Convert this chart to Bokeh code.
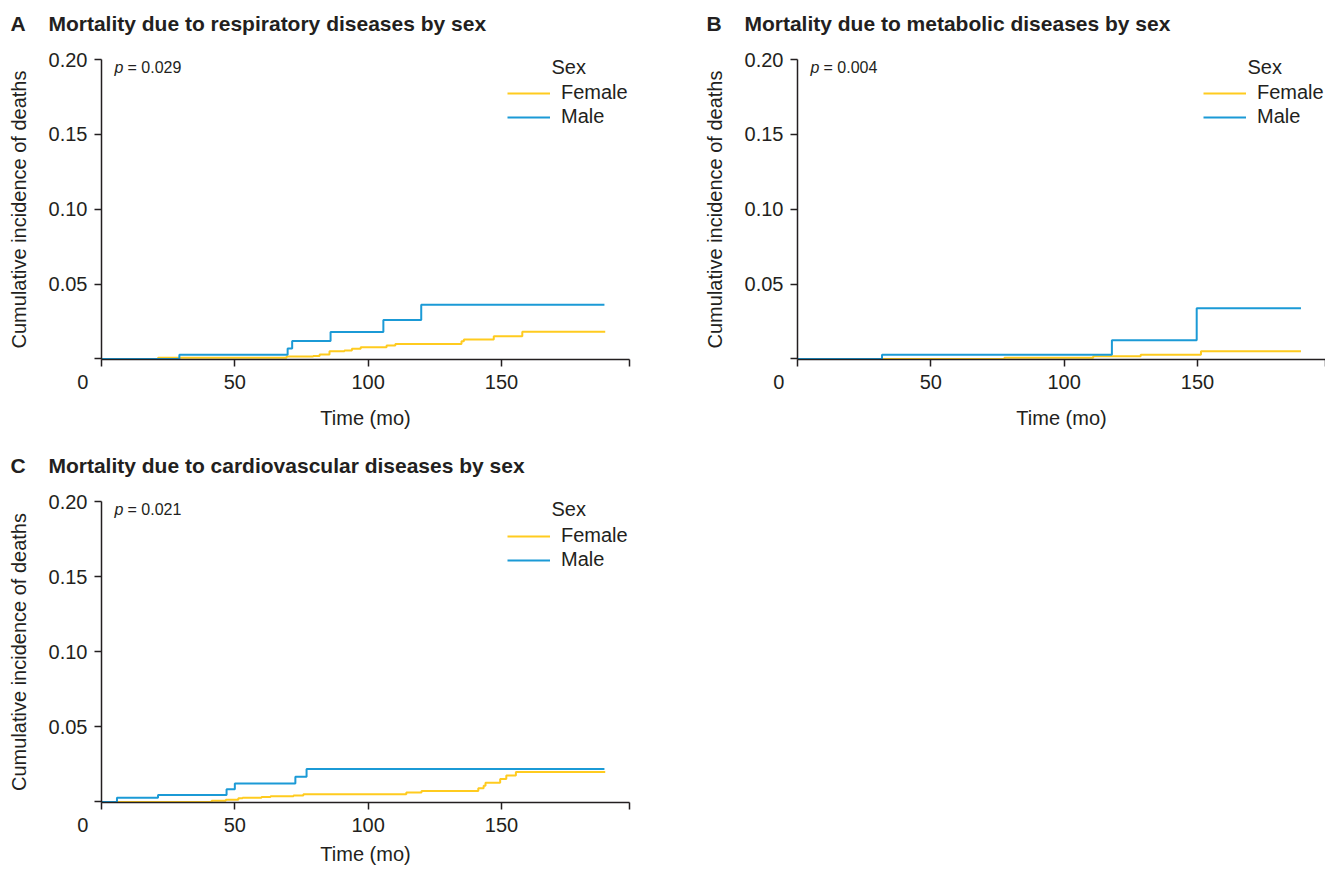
from bokeh.plotting import figure
from bokeh.models import (Range1d, FixedTicker, NumeralTickFormatter, Label, Legend, LegendItem, Title)
from bokeh.layouts import column, row
from bokeh.embed import file_html
from bokeh.resources import INLINE

# ---------------- data ----------------
a_male_t = [0, 29.2, 69.8, 71.5, 85.9, 105.7, 119.9, 188.6]
a_male_v = [0, 0.0027, 0.0069, 0.012, 0.018, 0.026, 0.0362, 0.0362]
a_fem_t = [0, 21.2, 69.4, 79.4, 81.8, 85.5, 91.1, 93.9, 97.2, 106.9, 110.2, 135.0, 135.9, 147.1, 157.8, 188.9]
a_fem_v = [0, 0.0007, 0.0016, 0.002, 0.0029, 0.0051, 0.0056, 0.0067, 0.0078, 0.0089, 0.010, 0.0118, 0.0129, 0.0151, 0.0182, 0.0182]

b_male_t = [0, 31.7, 117.9, 149.7, 188.8]
b_male_v = [0, 0.0027, 0.0124, 0.0338, 0.0338]
b_fem_t = [0, 77.6, 110.9, 128.7, 151.3, 188.8]
b_fem_v = [0, 0.0007, 0.0018, 0.0027, 0.0051, 0.0051]

c_male_t = [0, 5.8, 21.2, 46.9, 50.0, 72.7, 76.9, 188.6]
c_male_v = [0, 0.0027, 0.0046, 0.0084, 0.0122, 0.0168, 0.0219, 0.0219]
c_fem_t = [0, 41.3, 46.6, 51.3, 52.9, 60.0, 63.4, 72.0, 75.7, 114.3, 120.0, 141.3, 143.3, 144.0, 149.5, 151.8, 155.4, 188.9]
c_fem_v = [0, 0.0007, 0.0015, 0.0024, 0.0028, 0.0033, 0.0038, 0.0042, 0.0051, 0.0062, 0.0073, 0.0091, 0.0108, 0.0128, 0.0153, 0.0175, 0.0199, 0.0199]

x_ticks = [0, 50, 100, 150, 198]
y_ticks = [0, 0.05, 0.10, 0.15, 0.20]
series_labels = ["Female", "Male"]
legend_title = "Sex"
x_label = "Time (mo)"
y_label = "Cumulative incidence of deaths"

FONT = "Liberation Sans"
TXT = "#231f20"
YELLOW = "#FFCB1F"
BLUE = "#1B9AD6"


def make_panel(letter, title, pval, fem_t, fem_v, male_t, male_v,
               width, height, border_left, border_right, border_top, border_bottom,
               xlab_standoff, legend_y):
    p = figure(width=width, height=height, output_backend="svg", toolbar_location=None,
               x_range=Range1d(0, 198), y_range=Range1d(-0.0004, 0.20),
               min_border_left=border_left, min_border_right=border_right,
               min_border_top=border_top, min_border_bottom=border_bottom)
    p.outline_line_color = None
    p.xgrid.visible = False
    p.ygrid.visible = False
    p.background_fill_color = "white"
    p.border_fill_color = "white"

    # real title on top, an empty spacer title between it and the frame
    p.title.text = letter + "\u2003\u200a" + title
    p.title.align = "left"
    p.title.offset = -91
    p.title.standoff = 0
    p.title.text_font = FONT
    p.title.text_font_size = "21px"
    p.title.text_font_style = "bold"
    p.title.text_color = TXT
    spacer = Title(text="\u00a0", text_font_size="10px", standoff=12)
    p.add_layout(spacer, "above")

    for ax in (p.xaxis[0], p.yaxis[0]):
        ax.axis_line_color = TXT
        ax.axis_line_width = 1.5
        ax.major_tick_line_color = TXT
        ax.major_tick_line_width = 1.5
        ax.major_tick_out = 7
        ax.major_tick_in = 0
        ax.minor_tick_line_color = None
        ax.major_label_text_font = FONT
        ax.major_label_text_font_size = "20px"
        ax.major_label_text_color = TXT
        ax.axis_label_text_font = FONT
        ax.axis_label_text_font_size = "20px"
        ax.axis_label_text_font_style = "normal"
        ax.axis_label_text_color = TXT

    p.xaxis[0].ticker = FixedTicker(ticks=x_ticks)
    p.xaxis[0].major_label_overrides = {0: "0\u2007\u2007\u2007\u2009", 198: ""}
    p.xaxis[0].axis_label = x_label
    p.xaxis[0].major_label_standoff = 4
    p.xaxis[0].axis_label_standoff = xlab_standoff

    p.yaxis[0].ticker = FixedTicker(ticks=y_ticks)
    p.yaxis[0].formatter = NumeralTickFormatter(format="0.00")
    p.yaxis[0].major_label_overrides = {0: ""}
    p.yaxis[0].axis_label = y_label
    p.yaxis[0].major_label_standoff = 7
    p.yaxis[0].axis_label_standoff = 16

    rf = p.step(fem_t, fem_v, mode="after", line_color=YELLOW, line_width=2)
    rm = p.step(male_t, male_v, mode="after", line_color=BLUE, line_width=2)

    legend = Legend(items=[LegendItem(label=series_labels[0], renderers=[rf]),
                           LegendItem(label=series_labels[1], renderers=[rm])],
                    location=(406, legend_y), orientation="vertical",
                    border_line_color=None, background_fill_alpha=0,
                    padding=0, margin=0, spacing=1,
                    glyph_width=43, glyph_height=20, label_height=20,
                    label_standoff=11, label_text_font=FONT,
                    label_text_font_size="20px", label_text_color=TXT)
    p.add_layout(legend)

    common = dict(x=0, y=0.2, x_units="data", y_units="data", text_font=FONT,
                  text_color=TXT, text_baseline="middle")
    p.add_layout(Label(text=legend_title, x_offset=450, y_offset=-7,
                       text_font_size="20px", **common))
    p.add_layout(Label(text="p", x_offset=13, y_offset=-8, text_font_size="16px",
                       text_font_style="italic", **common))
    p.add_layout(Label(text="= " + pval, x_offset=26, y_offset=-8,
                       text_font_size="16px", **common))
    return p


pA = make_panel("A", "Mortality due to respiratory diseases by sex", "0.029",
                a_fem_t, a_fem_v, a_male_t, a_male_v,
                696, 448, 101, 67, 59, 89, 11, 231)
pB = make_panel("B", "Mortality due to metabolic diseases by sex", "0.004",
                b_fem_t, b_fem_v, b_male_t, b_male_v,
                629, 448, 101, 0, 59, 89, 11, 231)
pC = make_panel("C", "Mortality due to cardiovascular diseases by sex", "0.021",
                c_fem_t, c_fem_v, c_male_t, c_male_v,
                696, 420, 101, 67, 53, 66, 4, 231)

layout = column(row(pA, pB), pC)
open("out.html", "w").write(file_html(layout, INLINE))
